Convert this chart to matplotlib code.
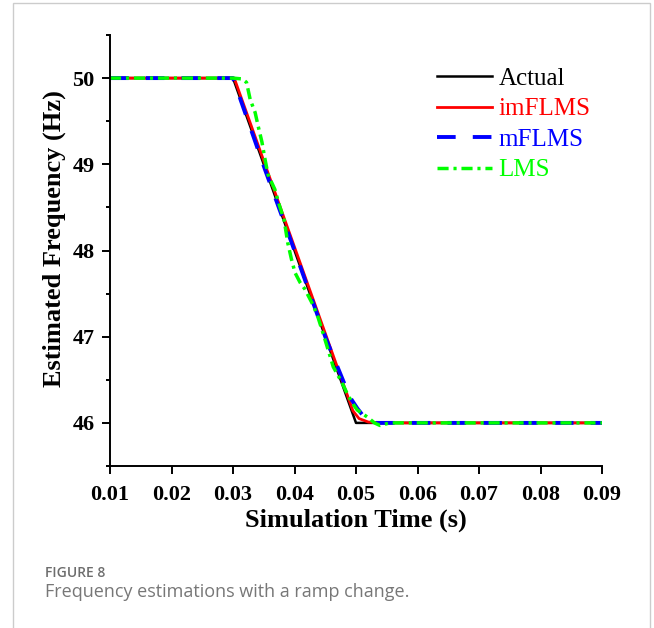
import numpy as np
import matplotlib
matplotlib.use('Agg')
from matplotlib import pyplot as plt
from matplotlib.patches import Rectangle
from matplotlib.ticker import MultipleLocator, FormatStrFormatter

# data
t_actual = [0.01, 0.03, 0.05, 0.09]
f_actual = [50.0, 50.0, 46.0, 46.0]

t_imflms = [0.01, 0.0302, 0.0495, 0.0505, 0.052, 0.054, 0.09]
f_imflms = [50.0, 50.0, 46.14, 46.05, 46.01, 46.0, 46.0]

t_mflms = [0.01, 0.0300, 0.0352, 0.0403, 0.0451, 0.0490, 0.0502, 0.0515, 0.053, 0.09]
f_mflms = [50.0, 50.0, 48.94, 47.94, 46.98, 46.30, 46.17, 46.05, 46.0, 46.0]

t_lms = [0.01, 0.0300, 0.0315, 0.0322, 0.0328, 0.0336, 0.0341, 0.0347, 0.0352,
         0.0357, 0.0368, 0.0376, 0.0383, 0.0389, 0.0395, 0.0401, 0.0409, 0.0417,
         0.0430, 0.0438, 0.0446, 0.0458, 0.0463, 0.0477, 0.0485, 0.0494, 0.0502,
         0.0520, 0.0530, 0.0539, 0.0555, 0.09]
f_lms = [50.0, 50.0, 49.99, 49.95, 49.75, 49.60, 49.44, 49.26, 49.06,
         48.88, 48.71, 48.51, 48.36, 48.09, 47.90, 47.74, 47.63, 47.55,
         47.37, 47.23, 47.05, 46.77, 46.65, 46.47, 46.35, 46.23, 46.15,
         46.06, 46.0, 45.97, 46.0, 46.0]

x_ticks = [0.01, 0.02, 0.03, 0.04, 0.05, 0.06, 0.07, 0.08, 0.09]
y_ticks = [46, 47, 48, 49, 50]

serif = 'Liberation Serif'

fig = plt.figure(figsize=(6.54, 6.28), dpi=100)
ax = fig.add_axes([110/654, 1 - 466/628, 492/654, 431/628])

ax.plot(t_actual, f_actual, color='black', lw=1.8, label='Actual')
ax.plot(t_imflms, f_imflms, color='#ff0000', lw=2.0, label='imFLMS')
ax.plot(t_mflms, f_mflms, color='#0000ff', lw=2.8, dashes=(4.8, 4.4), label='mFLMS')
ax.plot(t_lms, f_lms, color='#00ff00', lw=2.5, dashes=(3.2, 1.4, 0.9, 1.4), label='LMS')

ax.set_xlim(0.01, 0.09)
ax.set_ylim(45.5, 50.5)
ax.set_xticks(x_ticks)
ax.set_yticks(y_ticks)
ax.yaxis.set_minor_locator(MultipleLocator(0.5))
ax.xaxis.set_major_formatter(FormatStrFormatter('%.2f'))

for s in ['top', 'right']:
    ax.spines[s].set_visible(False)
for s in ['left', 'bottom']:
    ax.spines[s].set_linewidth(1.4)

ax.tick_params(which='major', direction='out', length=6, width=1.4, pad=5)
ax.tick_params(axis='x', which='major', pad=7.5)
ax.tick_params(which='minor', direction='out', length=3, width=1.4)
for lab in ax.get_xticklabels() + ax.get_yticklabels():
    lab.set_fontfamily(serif)
    lab.set_fontweight('bold')
    lab.set_fontsize(16)

ax.set_xlabel('Simulation Time (s)', fontfamily=serif, fontweight='bold', fontsize=19, labelpad=3)
ax.set_ylabel('Estimated Frequency (Hz)', fontfamily=serif, fontweight='bold', fontsize=19)
ax.yaxis.set_label_coords(-0.09, 0.527)

leg = ax.legend(loc='upper left', bbox_to_anchor=(0.665, 0.925), frameon=False,
                prop={'family': serif, 'size': 18}, labelcolor='linecolor',
                handlelength=2.2, handletextpad=0.25, labelspacing=0.32,
                borderpad=0, borderaxespad=0)

# outer frame and caption
fig.patches.append(Rectangle((12.5/654, -0.05), (650 - 12.5)/654, 1.05 - 2.7/628,
                             transform=fig.transFigure, fill=False,
                             edgecolor='#cccccc', lw=1))
fig.text(45/654, (628 - 576.7)/628, 'FIGURE 8', fontfamily='Open Sans',
         fontweight='semibold', fontsize=10, color='#6d6d6d', va='baseline')
fig.text(45/654, (628 - 597)/628, 'Frequency estimations with a ramp change.',
         fontfamily='Open Sans', fontsize=13, color='#777777', va='baseline')

plt.savefig('out.png', dpi=100)
plt.close(fig)
